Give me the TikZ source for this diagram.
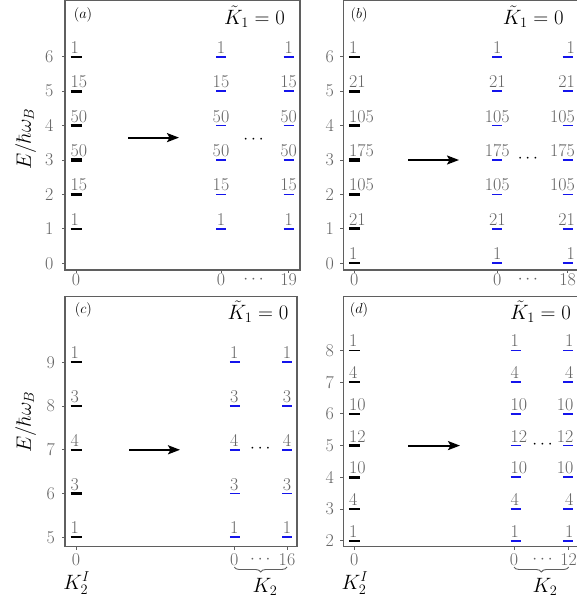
\documentclass[tikz,border=0pt]{standalone}
\usepackage{amsmath}
\usepackage{xcolor}
\definecolor{framegray}{RGB}{95,95,95}
\definecolor{labgray}{RGB}{100,100,100}
\definecolor{subblue}{RGB}{20,20,235}
\usetikzlibrary{arrows.meta, positioning, decorations.pathreplacing}

\tikzset{
  panel/.style={draw=framegray, line width=1.1pt},
  axtick/.style={framegray, line width=0.9pt},
  parentlvl/.style={line width=#1, black},
  childlvl/.style={line width=1.8pt, subblue},
  deg/.style={font=\fontsize{18}{18}\selectfont, text=labgray, inner sep=0pt},
  ticklab/.style={font=\fontsize{18}{18}\selectfont, text=labgray, inner sep=0pt},
  dotsnode/.style={font=\fontsize{18}{18}\selectfont, inner sep=0pt},
  axlab/.style={font=\fontsize{20}{20}\selectfont, inner sep=0pt},
  ylabstyle/.style={font=\fontsize{22}{22}\selectfont, inner sep=0pt, rotate=90},
  ktilde/.style={font=\fontsize{20}{20}\selectfont, inner sep=0pt},
  tag/.style={font=\fontsize{15}{15}\selectfont, inner sep=0pt},
  jump/.style={-{Stealth[length=12pt,width=9pt,inset=2.5pt]}, line width=2pt},
  kbrace/.style={decorate, decoration={brace, mirror, amplitude=5pt}, framegray, line width=0.9pt}
}

\begin{document}
\begin{tikzpicture}[x=1pt, y=1pt]
  \useasboundingbox (0,0) rectangle (577,602);

  % Axes boxes
  \draw[panel] (65,332) rectangle (300,601.5);
  \draw[panel] (343.3,332) rectangle (580,601.5);
  \draw[panel] (65,55.3) rectangle (297,305.3);
  \draw[panel] (343.3,55.3) rectangle (580,305.3);

  % Y axis labels
  \node[ylabstyle] (ylab-top) at (25.7,463) {$E/\hbar\omega_B$};
  \node[ylabstyle] (ylab-bot) at (25.7,180) {$E/\hbar\omega_B$};

  % ---------------- (a)
  \node[tag] (a-tag) at (83,587) {$(a)$};
  \node[ktilde] (a-k1) at (254.5,585.3) {$\tilde{K}_1=0$};
  \begin{scope}[shift={(0pt,338.7pt)}, y=34.43pt]
    \foreach \e in {0,...,6} {
      \draw[axtick] (65,\e) -- ++(-3.5,0);
      \node[ticklab, anchor=east] (a-t\e) at (53.5,\e) {\e};
    }
    \foreach \e/\d in {1/1,2/15,3/50,4/50,5/15,6/1} {
      \pgfmathsetmacro\lw{1.7+0.45*ln(\d)}
      \draw[parentlvl=\lw pt] (70.5,\e) -- (81.5,\e);
      \node[deg, anchor=base west, yshift=3.5pt] (a-l\e) at (70.5,\e) {\d};
      \draw[childlvl] (216,\e) -- (226,\e);
      \node[deg, anchor=base, yshift=3.5pt] (a-m\e) at (221,\e) {\d};
      \draw[childlvl] (283.7,\e) -- (293.7,\e);
      \node[deg, anchor=base, yshift=3.5pt] (a-r\e) at (288.7,\e) {\d};
    }
    \coordinate (a-from) at (128,3.65);
    \coordinate (a-to) at (179,3.65);
    \draw[jump] (a-from) -- (a-to);
    \node[dotsnode] (a-dots) at (255,3.58) {$\cdots$};
  \end{scope}
  \foreach \x in {76,221,288.7}
    \draw[axtick] (\x,332) -- ++(0,-3.5);
  \node[ticklab] (a-x0) at (76,322) {0};
  \node[ticklab] (a-x1) at (221,322) {0};
  \node[dotsnode, text=labgray] (a-xd) at (255,322) {$\cdots$};
  \node[ticklab] (a-x2) at (288.7,322) {19};

  % ---------------- (b)
  \node[tag] (b-tag) at (359,587) {$(b)$};
  \node[ktilde] (b-k1) at (533.3,585.3) {$\tilde{K}_1=0$};
  \begin{scope}[shift={(0pt,338.7pt)}, y=34.43pt]
    \foreach \e in {0,...,6} {
      \draw[axtick] (343.3,\e) -- ++(-3.5,0);
      \node[ticklab, anchor=east] (b-t\e) at (334,\e) {\e};
    }
    \foreach \e/\d in {0/1,1/21,2/105,3/175,4/105,5/21,6/1} {
      \pgfmathsetmacro\lw{1.7+0.45*ln(\d)}
      \draw[parentlvl=\lw pt] (348.8,\e) -- (359.8,\e);
      \node[deg, anchor=base west, yshift=3.5pt] (b-l\e) at (348.8,\e) {\d};
      \draw[childlvl] (492.3,\e) -- (502.3,\e);
      \node[deg, anchor=base, yshift=3.5pt] (b-m\e) at (497.3,\e) {\d};
      \draw[childlvl] (562.7,\e) -- (572.7,\e);
      \node[deg, anchor=base east, yshift=3.5pt] (b-r\e) at (575,\e) {\d};
    }
    \coordinate (b-from) at (408,3);
    \coordinate (b-to) at (459,3);
    \draw[jump] (b-from) -- (b-to);
    \node[dotsnode] (b-dots) at (529.3,3.05) {$\cdots$};
  \end{scope}
  \foreach \x in {354.3,497.3,567.7}
    \draw[axtick] (\x,332) -- ++(0,-3.5);
  \node[ticklab] (b-x0) at (354.3,322) {0};
  \node[ticklab] (b-x1) at (497.3,322) {0};
  \node[dotsnode, text=labgray] (b-xd) at (529.3,322) {$\cdots$};
  \node[ticklab] (b-x2) at (567.7,322) {18};

  % ---------------- (c)
  \node[tag] (c-tag) at (83.3,292) {$(c)$};
  \node[ktilde] (c-k1) at (258,290.3) {$\tilde{K}_1=0$};
  \begin{scope}[shift={(0pt,-154.05pt)}, y=43.75pt]
    \foreach \e in {5,...,9} {
      \draw[axtick] (65,\e) -- ++(-3.5,0);
      \node[ticklab, anchor=east] (c-t\e) at (55,\e) {\e};
    }
    \foreach \e/\d in {5/1,6/3,7/4,8/3,9/1} {
      \pgfmathsetmacro\lw{1.7+0.45*ln(\d)}
      \draw[parentlvl=\lw pt] (70.5,\e) -- (81.5,\e);
      \node[deg, anchor=base west, yshift=3.5pt] (c-l\e) at (70.5,\e) {\d};
      \draw[childlvl] (229.8,\e) -- (239.8,\e);
      \node[deg, anchor=base, yshift=3.5pt] (c-m\e) at (234.3,\e) {\d};
      \draw[childlvl] (282,\e) -- (292,\e);
      \node[deg, anchor=base, yshift=3.5pt] (c-r\e) at (287,\e) {\d};
    }
    \coordinate (c-from) at (129,7);
    \coordinate (c-to) at (180,7);
    \draw[jump] (c-from) -- (c-to);
    \node[dotsnode] (c-dots) at (261.7,7.03) {$\cdots$};
  \end{scope}
  \foreach \x in {76,234.3,287}
    \draw[axtick] (\x,55.3) -- ++(0,-3.5);
  \node[ticklab] (c-x0) at (76,42) {0};
  \node[ticklab] (c-x1) at (234.3,42) {0};
  \node[dotsnode, text=labgray] (c-xd) at (261.7,42) {$\cdots$};
  \node[ticklab] (c-x2) at (287,42) {16};
  \coordinate (c-b0) at (234.3,35);
  \coordinate (c-b1) at (287,35);
  \draw[kbrace] (c-b0) -- (c-b1);
  \node[axlab] (c-k2) at (265,15) {$K_2$};
  \node[axlab] (c-k2i) at (76.7,19) {$K_2^I$};

  % ---------------- (d)
  \node[tag] (d-tag) at (359,292) {$(d)$};
  \node[ktilde] (d-k1) at (540.5,290.3) {$\tilde{K}_1=0$};
  \begin{scope}[shift={(0pt,-2.1pt)}, y=31.7pt]
    \foreach \e in {2,...,8} {
      \draw[axtick] (343.3,\e) -- ++(-3.5,0);
      \node[ticklab, anchor=east] (d-t\e) at (334,\e) {\e};
    }
    \foreach \e/\d in {2/1,3/4,4/10,5/12,6/10,7/4,8/1} {
      \pgfmathsetmacro\lw{1.7+0.45*ln(\d)}
      \draw[parentlvl=\lw pt] (348.8,\e) -- (359.8,\e);
      \node[deg, anchor=base west, yshift=3.5pt] (d-l\e) at (348.8,\e) {\d};
      \draw[childlvl] (510.5,\e) -- (520.5,\e);
      \node[deg, anchor=base west, yshift=3.5pt] (d-m\e) at (510.5,\e) {\d};
      \draw[childlvl] (563.2,\e) -- (573.2,\e);
      \node[deg, anchor=base east, yshift=3.5pt] (d-r\e) at (573.5,\e) {\d};
    }
    \coordinate (d-from) at (408,5);
    \coordinate (d-to) at (460,5);
    \draw[jump] (d-from) -- (d-to);
    \node[dotsnode] (d-dots) at (544,5.02) {$\cdots$};
  \end{scope}
  \foreach \x in {354.3,514,568.7}
    \draw[axtick] (\x,55.3) -- ++(0,-3.5);
  \node[ticklab] (d-x0) at (354.3,42) {0};
  \node[ticklab] (d-x1) at (514,42) {0};
  \node[dotsnode, text=labgray] (d-xd) at (544,42) {$\cdots$};
  \node[ticklab] (d-x2) at (568.7,42) {12};
  \coordinate (d-b0) at (514,35);
  \coordinate (d-b1) at (568.7,35);
  \draw[kbrace] (d-b0) -- (d-b1);
  \node[axlab] (d-k2) at (545,15.3) {$K_2$};
  \node[axlab] (d-k2i) at (355,19) {$K_2^I$};
\end{tikzpicture}
\end{document}
